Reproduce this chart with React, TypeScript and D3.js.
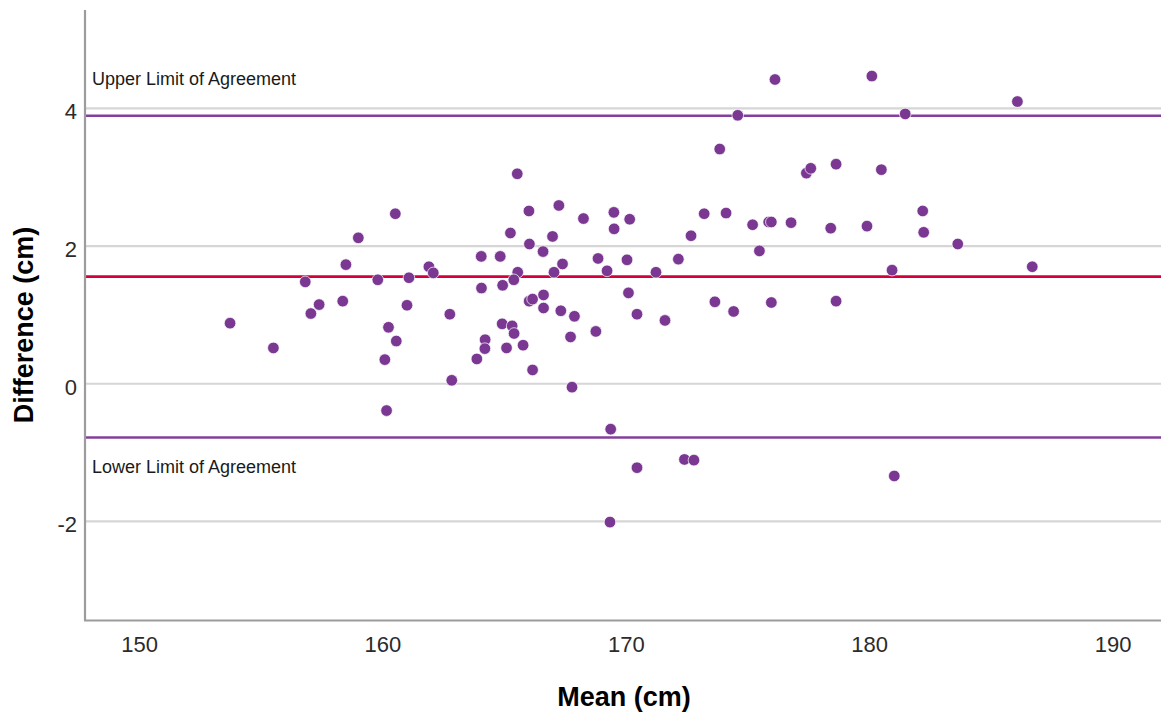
import React from "react";
import * as d3 from "d3";

// Bland–Altman plot: mean of the two measurements vs. their difference
const meanCm: number[] = [
  153.72, 155.5, 156.81, 157.04, 157.38, 158.48, 158.99, 158.35, 159.79, 160.23,
  160.55, 160.08, 160.51, 160.99, 161.07, 161.89, 162.07, 162.75, 162.83, 163.86,
  164.2, 164.19, 164.04, 164.05, 164.82, 164.92, 164.9, 165.31, 165.39, 165.08,
  165.24, 165.52, 165.54, 165.38, 165.76, 166.0, 166.02, 166.01, 166.15, 166.15,
  166.58, 166.6, 166.6, 166.97, 167.03, 167.23, 167.38, 167.31, 167.87, 167.71,
  167.77, 168.24, 168.84, 169.21, 168.75, 169.49, 169.5, 170.14, 170.03, 170.09,
  170.44, 171.22, 171.59, 172.14, 172.66, 173.2, 173.64, 173.84, 174.1, 174.41,
  174.58, 175.19, 175.47, 175.85, 175.96, 175.96, 176.11, 176.77, 177.4, 177.58,
  178.4, 178.62, 178.62, 179.89, 180.09, 180.48, 180.92, 181.46, 182.18, 182.22,
  183.62, 186.07, 186.68, 169.36, 170.44, 172.39, 172.78, 169.33, 181.01, 160.15,
];

const differenceCm: number[] = [
  0.88, 0.52, 1.48, 1.02, 1.15, 1.73, 2.12, 1.2, 1.51, 0.82,
  0.62, 0.35, 2.47, 1.14, 1.54, 1.7, 1.61, 1.01, 0.05, 0.36,
  0.64, 0.51, 1.85, 1.39, 1.85, 1.43, 0.87, 0.84, 0.73, 0.52,
  2.19, 3.05, 1.62, 1.51, 0.56, 2.51, 2.03, 1.2, 1.23, 0.2,
  1.92, 1.29, 1.1, 2.14, 1.62, 2.59, 1.74, 1.06, 0.98, 0.68,
  -0.05, 2.4, 1.82, 1.64, 0.76, 2.49, 2.25, 2.39, 1.8, 1.32,
  1.01, 1.62, 0.92, 1.81, 2.15, 2.47, 1.19, 3.41, 2.48, 1.05,
  3.9, 2.31, 1.93, 2.35, 2.35, 1.18, 4.42, 2.34, 3.06, 3.13,
  2.26, 3.19, 1.2, 2.29, 4.47, 3.11, 1.65, 3.92, 2.51, 2.2,
  2.03, 4.1, 1.7, -0.66, -1.22, -1.1, -1.11, -2.01, -1.34, -0.39,
];

const meanDifference = 1.556;
const upperLimit = 3.894;
const lowerLimit = -0.782;

const xTicks: number[] = [150, 160, 170, 180, 190];
const yTicks: number[] = [-2, 0, 2, 4];

const upperLabel = "Upper Limit of Agreement";
const lowerLabel = "Lower Limit of Agreement";
const xTitle = "Mean (cm)";
const yTitle = "Difference (cm)";

const WIDTH = 1161;
const HEIGHT = 714;
const LEFT = 85;
const RIGHT = 1161;
const TOP = 10;
const BOTTOM = 620.5;

const FONT = "'Liberation Sans', Arial, Helvetica, sans-serif";
const DOT = "#7a3892";
const LOA = "#843f9c";
const MEAN = "#d5003b";
const GRID = "#d6d6d6";
const AXIS = "#9c9c9c";

export default function App() {
  const x = d3.scaleLinear().domain([147.76, 191.97]).range([LEFT, RIGHT]);
  const y = d3.scaleLinear().domain([-3.44, 5.43]).range([BOTTOM, TOP]);

  const points = meanCm.map((m, i) => ({ m, d: differenceCm[i] }));

  return (
    <svg
      width={WIDTH}
      height={HEIGHT}
      style={{ position: "absolute", left: 0, top: 0, background: "#fff" }}
      fontFamily={FONT}
    >
      <rect x={0} y={0} width={WIDTH} height={HEIGHT} fill="#fff" />

      {/* horizontal gridlines */}
      {yTicks.map((t) => (
        <line
          key={`g${t}`}
          x1={LEFT}
          x2={RIGHT}
          y1={y(t)}
          y2={y(t)}
          stroke={GRID}
          strokeWidth={2.2}
        />
      ))}

      {/* limits of agreement and mean difference */}
      <line x1={LEFT} x2={RIGHT} y1={y(upperLimit)} y2={y(upperLimit)} stroke={LOA} strokeWidth={2.6} />
      <line x1={LEFT} x2={RIGHT} y1={y(lowerLimit)} y2={y(lowerLimit)} stroke={LOA} strokeWidth={2.6} />
      <line x1={LEFT} x2={RIGHT} y1={y(meanDifference)} y2={y(meanDifference)} stroke={MEAN} strokeWidth={2.6} />

      <text x={92} y={y(upperLimit) - 30.5} fontSize={18} fill="#1a1a1a">
        {upperLabel}
      </text>
      <text x={92} y={y(lowerLimit) + 35.5} fontSize={18} fill="#1a1a1a">
        {lowerLabel}
      </text>

      {/* axes */}
      <line x1={LEFT} x2={LEFT} y1={TOP} y2={BOTTOM} stroke={AXIS} strokeWidth={2.2} />
      <line x1={LEFT - 1} x2={RIGHT} y1={BOTTOM} y2={BOTTOM} stroke={AXIS} strokeWidth={2.2} />

      {xTicks.map((t) => (
        <text
          key={`x${t}`}
          x={x(t)}
          y={652}
          fontSize={22}
          textAnchor="middle"
          fill="#2b2b2b"
        >
          {t}
        </text>
      ))}
      {yTicks.map((t) => (
        <text
          key={`y${t}`}
          x={77}
          y={y(t) + 11}
          fontSize={22}
          textAnchor="end"
          fill="#2b2b2b"
        >
          {t}
        </text>
      ))}

      <text x={624} y={706} fontSize={27} fontWeight="bold" textAnchor="middle" fill="#000">
        {xTitle}
      </text>
      <text
        transform={`translate(33,325) rotate(-90)`}
        fontSize={27}
        fontWeight="bold"
        textAnchor="middle"
        fill="#000"
      >
        {yTitle}
      </text>

      {/* observations */}
      {points.map((p, i) => (
        <circle
          key={i}
          cx={x(p.m)}
          cy={y(p.d)}
          r={5.8}
          fill={DOT}
          stroke="#fff"
          strokeWidth={0.7}
        />
      ))}
    </svg>
  );
}
